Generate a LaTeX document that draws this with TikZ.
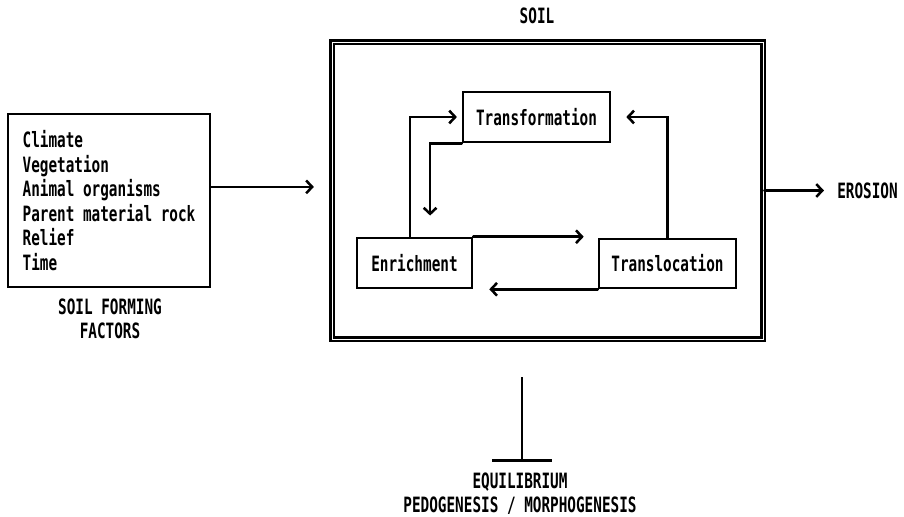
\documentclass[tikz,border=0pt]{standalone}
\usepackage{fontspec}
\newfontfamily\dotfont{DejaVu Sans Mono}[FakeStretch=0.68]
\usepackage{tikz}
\usetikzlibrary{arrows.meta,positioning}

\begin{document}
\begin{tikzpicture}[x=0.025cm,y=-0.025cm,line width=1.8pt,
  >={Straight Barb[length=1.5mm,width=3.2mm]},
  font=\dotfont\bfseries\fontsize{15}{17}\selectfont,
  box/.style={draw,inner sep=0pt},
  flow/.style={->,line cap=round}]
\useasboundingbox (0,0) rectangle (904,516);
\node[box,minimum width=5.05cm,minimum height=4.325cm,align=left,font=\dotfont\bfseries\fontsize{15}{17.4}\selectfont] (factors) at (109,200.5)
  {Climate\\Vegetation\\Animal organisms\\Parent material rock\\Relief\\Time};
\node[align=center] (factlbl) at (110,319) {SOIL FORMING\\FACTORS};
\node[box,double,double distance=0.6pt,minimum width=10.775cm,minimum height=7.425cm] (soil) at (547.5,190.5) {};
\node (soillbl) at (537,16) {SOIL};
\node[box,minimum width=3.675cm,minimum height=1.25cm] (trans) at (536.5,117) {Transformation};
\node[box,minimum width=2.875cm,minimum height=1.25cm] (enrich) at (414.5,263) {Enrichment};
\node[box,minimum width=3.425cm,minimum height=1.225cm] (transl) at (667.5,263.5) {Translocation};
\node[anchor=west,inner sep=0pt] (erosion) at (836,190.5) {EROSION};
\node[align=center,anchor=north,inner sep=1pt] (equil) at (520,470) {EQUILIBRIUM\\PEDOGENESIS / MORPHOGENESIS};
\coordinate (eqtop) at (522,377);
\coordinate (eqbar) at (522,462);
\path ([yshift=0.34cm]factors.east) coordinate (fa);
\draw[flow,shorten >=0.42cm] (fa) -- (fa -| soil.west);
\draw[flow,shorten >=0.3cm] (soil.east) -- (erosion.west);
\draw[flow,shorten >=0.12cm] ([xshift=-0.11cm]enrich.north) |- (trans.west);
\draw[flow,shorten >=0.53cm] (trans.south west) -| ([xshift=0.39cm]enrich.north);
\draw[flow,shorten >=0.35cm] (enrich.north east) -- (enrich.north east -| transl.west);
\draw[flow,shorten >=0.375cm] (transl.north) |- (trans.east);
\draw[flow,shorten >=0.4cm] (transl.south west) -- (enrich.south east);
\draw[-{Bar[width=1.48cm]}] (eqtop) -- (eqbar);
\end{tikzpicture}
\end{document}
